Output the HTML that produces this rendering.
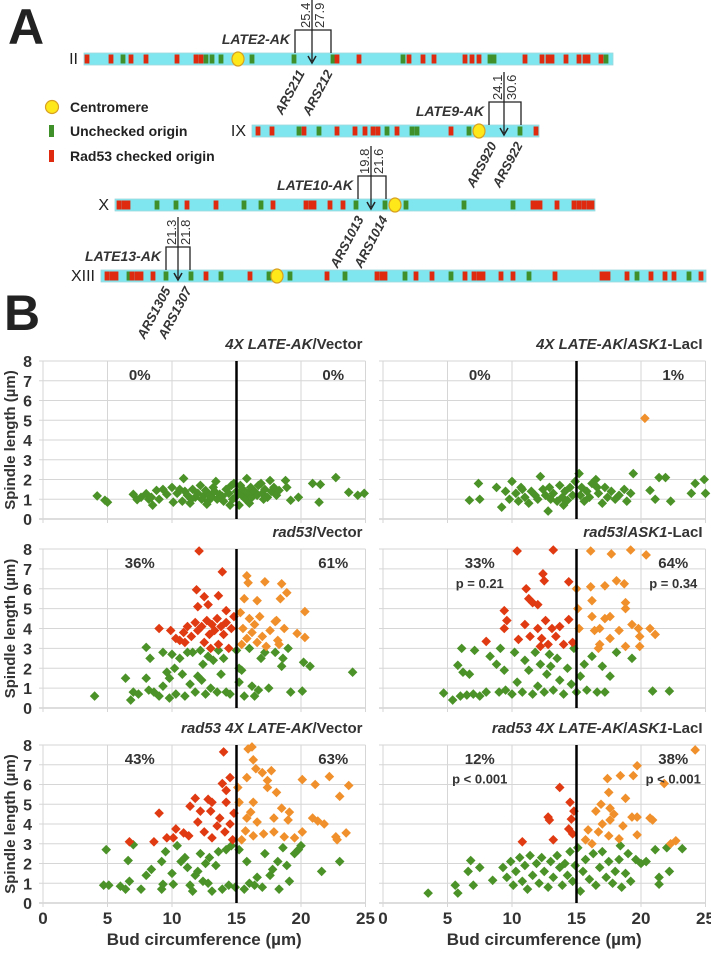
<!DOCTYPE html>
<html><head><meta charset="utf-8">
<style>
html,body{margin:0;padding:0;background:#fff;}
svg{display:block;font-family:"Liberation Sans",sans-serif;}
.n{font-family:"Liberation Sans Narrow","Liberation Sans",sans-serif;}
</style></head>
<body>
<svg id="fig" width="711" height="955" viewBox="0 0 711 955" xmlns="http://www.w3.org/2000/svg">
<text x="8" y="44" font-size="50" font-weight="bold" fill="#222">A</text>
<text x="4" y="330" font-size="50" font-weight="bold" fill="#222">B</text>
<g id="chromA"></g>
<g id="legendA">
 <circle cx="52" cy="107" r="6.5" fill="#ffe81a" stroke="#d8a020" stroke-width="1.2"/>
 <text class="n" x="70" y="112" font-size="14" font-weight="bold" fill="#222">Centromere</text>
 <rect x="49" y="125" width="5" height="12" fill="#3f8f2a"/>
 <text class="n" x="70" y="136" font-size="14" font-weight="bold" fill="#222">Unchecked origin</text>
 <rect x="49" y="150" width="5" height="12" fill="#e02a10"/>
 <text class="n" x="70" y="161" font-size="14" font-weight="bold" fill="#222">Rad53 checked origin</text>
</g>
<g id="plots"></g>
</svg>
<script>
// ---------- Panel A data ----------
const chrNames = ["II","IX","X","XIII"];
const chrStart = [84,252,115,101];
const chrEnd = [613,539,595,706];
const chrTop = [53,125,199,270];
const chrCen = [238,479,395,277];
const chrGreen = [
 [123,206,212,221,252,294,333,403,490,494,606],
 [299,319,387,412,417,469,520],
 [157,176,244,261,356,385,406,464,513],
 [129,166,191,221,269,290,345,405,451,529,637,689]
];
const chrRed = [
 [87,111,131,146,177,196,201,337,359,409,423,434,465,472,479,525,542,548,552,566,579,585,588,601],
 [258,272,304,337,355,365,373,378,397,451,536],
 [119,124,128,187,216,273,306,311,314,330,343,533,537,540,557,574,579,584,589,592],
 [107,112,116,132,137,141,153,206,250,327,377,382,385,416,432,465,474,479,483,501,513,555,602,606,608,627,651,665,674,701]
];
const lateLabels = ["LATE2-AK","LATE9-AK","LATE10-AK","LATE13-AK"];
const lateNum1 = ["25.4","24.1","19.8","21.3"];
const lateNum2 = ["27.9","30.6","21.6","21.8"];
const ars1 = ["ARS211","ARS920","ARS1013","ARS1305"];
const ars2 = ["ARS212","ARS922","ARS1014","ARS1307"];
const brL = [295,489,358,166], brR=[331,521,386,190], arX=[312,504,371,178], brTop=[30,102,176,247];
const chrIdx = [0,1,2,3];

const NS="http://www.w3.org/2000/svg";
function mk(tag,attrs,parent){const e=document.createElementNS(NS,tag);for(const k in attrs)e.setAttribute(k,attrs[k]);parent.appendChild(e);return e;}

const A=document.getElementById('chromA');
chrNames.forEach((nm,i)=>{
 const h=12,y=chrTop[i];
 const bar=mk('rect',{x:chrStart[i],y:y,width:chrEnd[i]-chrStart[i],height:h,fill:'#7fe6ef',stroke:'#9fd8dc','stroke-width':0.8},A);
 
 
 const t=mk('text',{x:chrStart[i]-6,y:y+11,'font-size':16,'text-anchor':'end',fill:'#222',class:'n'},A);t.textContent=nm;
 
 
 chrGreen[i].forEach(x=>{const r=mk('rect',{x:x-2.4,y:y+1.5,width:4.8,height:h-3,fill:'#3f8f2a'},A);
  
  });
 chrRed[i].forEach(x=>{const r=mk('rect',{x:x-2.4,y:y+1.5,width:4.8,height:h-3,fill:'#e02a10'},A);
  
  });
 const c=mk('ellipse',{cx:chrCen[i],cy:y+6,rx:6,ry:7,fill:'#ffe81a',stroke:'#d8a020','stroke-width':1.2},A);
 
 
});
chrIdx.forEach(i=>{
 const y=chrTop[i], top=brTop[i];
 const g=mk('g',{},A);
 
 
 mk('path',{d:`M${brL[i]} ${y} V${top} H${brR[i]} V${y}`,fill:'none',stroke:'#222','stroke-width':1.3},g);
 mk('line',{x1:arX[i],y1:top-30,x2:arX[i],y2:y+8,stroke:'#222','stroke-width':1.3},g);
 mk('path',{d:`M${arX[i]-4} ${y+3} L${arX[i]} ${y+10} L${arX[i]+4} ${y+3}`,fill:'none',stroke:'#222','stroke-width':1.5},g);
 let t=mk('text',{transform:`translate(${arX[i]-2},${top-2}) rotate(-90)`,'font-size':13,fill:'#333'},g);t.textContent=lateNum1[i];
 t=mk('text',{transform:`translate(${arX[i]+12},${top-2}) rotate(-90)`,'font-size':13,fill:'#333'},g);t.textContent=lateNum2[i];
 t=mk('text',{x:brL[i]-5,y:top+14,'font-size':14,'font-weight':'bold','font-style':'italic','text-anchor':'end',fill:'#333'},g);t.textContent=lateLabels[i];
 t=mk('text',{transform:`translate(${arX[i]-7},${y+20}) rotate(-62)`,'font-size':13,'font-weight':'bold','font-style':'italic','text-anchor':'end',fill:'#333'},g);t.textContent=ars1[i];
 t=mk('text',{transform:`translate(${brR[i]+2},${y+20}) rotate(-62)`,'font-size':13,'font-weight':'bold','font-style':'italic','text-anchor':'end',fill:'#333'},g);t.textContent=ars2[i];
});

// ---------- Panel B data ----------
const p1Green=[[4.2,1.17],[5.0,0.85],[4.8,0.95],[7.0,1.25],[7.3,0.98],[7.6,1.1],[8.0,1.28],[8.2,1.0],[8.5,0.7],[8.4,1.1],[8.8,1.45],[9.3,1.5],[10.0,1.6],[10.1,0.85],[10.4,1.3],[10.6,1.5],[10.8,0.9],[10.9,2.05],[11.0,1.4],[11.2,1.2],[11.4,0.8],[11.6,1.5],[11.8,1.1],[12.0,1.3],[12.2,1.7],[12.3,1.0],[12.5,1.2],[12.6,1.45],[12.8,0.9],[12.9,1.2],[13.1,1.1],[13.3,1.4],[13.4,1.9],[13.5,1.0],[13.7,1.25],[13.9,1.15],[14.0,0.9],[14.2,1.5],[14.4,1.3],[14.5,0.7],[14.6,1.7],[14.8,1.8],[14.9,1.1],[15.0,1.4],[15.2,0.7],[15.3,1.7],[15.4,1.2],[15.5,1.5],[15.7,1.0],[15.8,2.05],[15.9,1.3],[16.1,1.6],[16.2,1.1],[16.4,1.4],[16.6,1.2],[16.7,1.7],[16.9,1.8],[17.0,1.3],[17.2,1.5],[17.4,1.1],[17.6,1.95],[17.7,1.4],[17.9,1.6],[18.1,1.2],[18.3,1.45],[18.8,1.95],[18.9,1.6],[19.2,0.95],[19.8,1.1],[20.9,1.8],[21.4,0.85],[21.5,1.75],[22.7,2.1],[23.7,1.35],[24.4,1.2],[24.9,1.3],[11.5,1.0],[12.7,0.75],[13.2,1.6],[14.7,1.0],[16.0,0.8],[17.1,1.0],[9.6,1.25],[9.0,1.0]];
const p1Red=[];
const p1Orange=[];
const p2Green=[[6.7,0.95],[7.4,1.8],[7.5,1.0],[8.8,1.6],[9.2,0.6],[9.5,1.4],[9.8,1.0],[10.0,1.9],[10.3,1.3],[10.5,0.9],[10.7,1.6],[11.0,1.1],[11.3,0.8],[11.5,1.4],[11.8,1.2],[12.0,1.0],[12.2,2.15],[12.4,1.5],[12.6,1.2],[12.8,0.4],[13.0,1.0],[13.2,1.3],[13.5,0.9],[13.7,1.7],[13.9,1.1],[14.1,1.4],[14.3,0.95],[14.5,1.6],[14.7,1.2],[14.9,1.9],[15.2,2.3],[15.3,1.2],[15.4,1.6],[15.6,0.9],[15.8,1.4],[16.0,1.1],[16.2,1.8],[16.5,2.0],[16.7,1.3],[17.0,0.8],[17.2,1.6],[17.4,1.1],[17.7,1.4],[18.0,1.0],[18.3,1.2],[18.7,1.5],[18.9,0.9],[19.4,2.3],[19.2,1.3],[20.7,1.45],[21.1,1.0],[21.4,2.1],[21.9,2.1],[22.3,0.9],[23.9,1.3],[24.2,1.8],[24.9,2.0],[25.0,1.3],[10.8,1.5],[12.9,1.6],[16.6,1.6],[14.0,0.7]];
const p2Red=[];
const p2Orange=[[20.3,5.1]];
const p3Green=[[4.0,0.6],[6.4,1.5],[6.8,0.4],[7.0,0.8],[7.4,0.7],[8.0,3.05],[8.3,2.5],[8.0,1.5],[8.2,0.9],[8.6,0.8],[9.0,0.6],[9.3,2.8],[9.3,1.1],[9.6,1.8],[9.8,0.5],[9.8,1.5],[10.0,2.7],[10.2,2.0],[10.3,0.7],[10.6,2.5],[10.8,1.7],[11.0,0.6],[11.2,2.8],[11.4,1.2],[11.6,2.8],[11.8,0.8],[12.0,1.6],[12.2,2.9],[12.3,1.4],[12.6,0.7],[12.8,2.6],[13.0,1.0],[13.2,2.4],[13.5,0.8],[13.8,1.7],[14.0,2.5],[14.2,0.8],[14.5,0.7],[15.2,2.0],[15.4,1.9],[15.2,1.3],[15.6,0.6],[16.0,3.0],[16.2,1.1],[16.4,0.6],[16.7,0.9],[16.9,2.5],[17.2,2.8],[17.5,1.0],[18.0,2.8],[18.5,2.1],[18.6,2.5],[19.0,3.0],[19.2,0.8],[20.2,2.3],[20.1,0.85],[20.7,2.1],[24.0,1.8],[15.0,2.9],[13.6,2.9],[12.4,2.2]];
const p3Red=[[12.1,7.9],[13.9,6.85],[11.9,5.95],[12.5,5.6],[13.6,5.65],[12.0,5.1],[12.8,5.2],[14.2,4.9],[9.0,4.0],[9.9,3.9],[10.6,3.4],[10.9,3.8],[11.2,4.1],[11.5,3.6],[11.8,4.3],[12.0,3.9],[12.3,4.1],[12.5,3.3],[12.7,4.4],[12.9,3.7],[13.1,4.2],[13.3,3.9],[13.5,4.5],[13.6,3.2],[13.8,4.1],[14.0,3.7],[14.2,4.3],[14.4,3.0],[14.6,4.0],[14.8,4.6],[11.0,3.3],[13.0,3.0],[10.3,3.5]];
const p3Orange=[[15.8,6.65],[15.9,6.3],[17.2,6.35],[18.5,6.25],[18.9,5.8],[18.4,5.5],[16.6,5.4],[15.6,5.5],[20.3,4.85],[19.7,3.75],[20.3,3.55],[18.0,4.35],[18.7,4.0],[18.2,3.4],[15.3,4.8],[15.5,4.0],[15.8,3.5],[16.0,4.5],[16.2,3.8],[16.4,4.2],[16.6,3.3],[16.8,4.6],[17.0,3.6],[17.3,3.1],[17.6,3.9],[18.1,4.4],[18.3,3.2],[15.4,3.2]];
const p4Green=[[4.7,0.75],[5.4,0.4],[6.1,3.0],[7.1,2.9],[5.8,2.15],[6.2,1.8],[6.7,1.7],[8.3,2.6],[9.1,3.0],[8.8,2.2],[9.4,1.9],[6.0,0.6],[6.5,0.65],[7.0,0.7],[7.5,0.6],[8.0,0.8],[9.0,0.8],[9.5,0.9],[10.0,0.7],[10.4,1.3],[10.8,0.8],[11.0,2.4],[11.3,1.9],[11.6,0.7],[11.8,2.8],[12.0,1.1],[12.2,2.2],[12.5,0.8],[12.7,1.7],[13.0,2.1],[13.2,0.9],[13.5,2.5],[13.7,1.4],[14.0,0.7],[14.3,2.0],[14.6,1.2],[14.8,3.0],[15.0,0.8],[15.3,1.6],[15.6,2.2],[15.8,0.9],[16.2,2.6],[16.6,0.8],[17.0,2.1],[17.2,0.8],[17.6,1.6],[18.1,2.8],[19.3,2.5],[20.9,0.85],[22.2,0.85],[10.2,2.8],[12.9,2.7]];
const p4Red=[[10.4,7.9],[13.2,7.95],[12.4,6.75],[12.5,6.4],[14.4,6.35],[11.1,6.0],[11.3,5.5],[11.6,5.3],[12.0,5.2],[9.4,4.9],[9.6,4.4],[9.4,4.0],[8.0,3.35],[10.5,3.45],[11.4,3.6],[12.0,4.0],[12.3,3.5],[12.6,4.4],[12.8,3.2],[13.1,4.0],[13.4,3.6],[13.7,4.1],[14.4,4.45],[14.0,3.2],[14.7,3.3],[11.0,4.2],[12.2,3.1]];
const p4Orange=[[16.1,7.9],[17.7,7.75],[19.2,7.95],[20.4,7.7],[15.0,6.0],[16.1,6.1],[17.2,6.15],[18.1,6.4],[18.7,6.25],[16.2,5.4],[18.8,5.3],[18.8,5.0],[15.1,5.0],[16.2,4.6],[17.2,4.5],[17.6,4.6],[15.2,4.0],[16.4,3.9],[16.8,4.0],[18.3,3.9],[19.3,4.2],[19.8,4.0],[20.7,4.0],[21.1,3.7],[19.9,3.6],[19.9,3.1],[18.8,3.1],[17.6,3.5],[16.8,3.2],[16.7,3.0]];
const p5Green=[[4.9,2.7],[4.7,0.9],[5.1,0.9],[6.0,0.85],[6.4,0.7],[6.6,2.15],[7.0,2.95],[6.7,1.1],[7.6,0.7],[8.0,1.4],[8.4,1.7],[9.2,2.1],[9.3,0.95],[9.5,2.6],[9.2,0.7],[10.1,0.95],[10.0,1.5],[10.4,2.9],[10.7,2.1],[11.0,2.3],[11.2,1.8],[11.4,0.9],[11.6,0.6],[11.8,1.4],[12.0,1.6],[12.2,2.5],[12.4,1.1],[12.6,2.0],[12.9,2.3],[13.1,0.6],[13.4,1.9],[13.6,2.6],[13.9,0.7],[14.2,2.7],[14.4,0.9],[14.6,2.9],[14.9,0.8],[15.2,2.7],[15.6,0.7],[15.8,2.1],[16.0,1.0],[16.4,0.9],[17.0,0.8],[17.2,2.5],[17.6,1.4],[17.8,1.7],[18.2,2.1],[18.3,0.7],[18.6,2.8],[18.9,1.9],[19.1,1.1],[19.5,2.5],[19.8,2.7],[20.0,2.9],[21.6,1.6],[23.0,2.1],[16.6,1.3],[12.8,1.0]];
const p5Red=[[14.0,7.65],[14.5,6.35],[13.9,6.05],[14.2,5.7],[11.8,5.3],[11.4,4.9],[12.8,5.25],[13.1,5.1],[9.0,4.55],[12.2,4.65],[13.0,4.65],[14.2,5.1],[14.8,4.55],[14.5,4.0],[13.7,4.3],[10.3,3.75],[10.9,3.55],[11.3,3.4],[10.1,3.3],[9.6,3.3],[8.6,3.1],[6.7,3.1],[12.5,3.6],[13.1,3.3],[13.5,3.9],[14.1,3.6],[12.0,4.1],[14.7,3.2]];
const p5Orange=[[15.9,7.8],[16.2,7.9],[16.3,7.25],[16.5,6.8],[17.0,6.6],[17.7,6.7],[15.8,6.35],[17.4,6.2],[17.4,5.85],[18.1,5.6],[15.1,5.85],[20.1,6.25],[21.1,6.0],[22.2,6.4],[23.7,5.95],[23.0,5.4],[15.2,5.1],[16.3,5.1],[16.1,4.6],[15.8,4.3],[16.6,4.1],[17.9,4.3],[18.5,4.8],[19.1,4.6],[19.0,4.2],[20.9,4.3],[21.3,4.15],[21.8,4.0],[20.1,3.6],[18.7,3.35],[19.5,3.3],[23.5,3.55],[22.7,3.35],[22.8,3.2],[15.7,3.65],[16.3,3.4],[17.1,3.5],[17.9,3.6],[15.4,3.2]];
const p6Green=[[3.5,0.5],[6.8,2.15],[6.6,1.6],[5.6,0.9],[5.8,0.5],[7.0,0.9],[8.5,1.15],[7.5,1.8],[9.3,1.8],[9.6,1.3],[9.9,2.1],[10.1,0.9],[10.3,1.6],[10.6,2.3],[10.8,1.1],[11.0,1.9],[11.2,0.7],[11.4,2.4],[11.6,1.4],[11.9,2.0],[12.1,1.0],[12.3,2.3],[12.5,1.6],[12.8,0.8],[13.0,2.1],[13.2,1.3],[13.5,2.4],[13.7,1.8],[13.9,0.9],[14.1,2.0],[14.3,1.4],[14.5,2.6],[14.7,1.1],[14.9,1.9],[15.1,2.8],[15.3,0.6],[15.5,1.6],[15.7,2.2],[16.0,1.2],[16.3,2.5],[16.5,0.9],[16.8,1.8],[17.0,2.6],[17.3,1.3],[17.5,2.1],[17.8,1.0],[18.0,1.6],[18.3,2.2],[18.5,0.8],[18.8,1.5],[19.0,2.5],[19.2,1.1],[19.6,2.2],[20.0,2.0],[20.4,2.1],[21.1,2.7],[21.4,1.3],[21.4,0.95],[22.2,1.6],[22.0,2.8],[23.2,2.75],[18.4,2.9]];
const p6Red=[[13.7,5.85],[14.5,5.1],[14.8,4.65],[14.6,4.25],[12.8,4.35],[12.9,4.2],[14.4,3.75],[14.7,3.5],[13.2,3.2],[10.8,3.1]];
const p6Orange=[[24.2,7.75],[19.7,6.95],[19.4,6.45],[18.4,6.45],[17.4,6.3],[21.8,6.05],[17.5,5.6],[18.8,5.3],[16.9,5.0],[17.6,4.8],[17.9,4.5],[17.6,4.2],[17.0,4.0],[19.3,4.35],[19.7,4.35],[20.7,4.3],[20.9,4.2],[16.5,4.65],[15.9,3.7],[15.7,3.2],[16.7,3.6],[18.6,3.9],[19.7,3.45],[18.3,3.25],[22.7,3.15],[22.3,3.0],[16.2,3.0],[17.5,3.4]];

const panelTitlesPlain=[["4X ","LATE-AK","/Vector"],["4X ","LATE-AK","/","ASK1","-LacI"],["rad53","/Vector"],["rad53","/","ASK1","-LacI"],["rad53 4X ","LATE-AK","/Vector"],["rad53 4X ","LATE-AK","/","ASK1","-LacI"]];
const panelTitleItalic=[[1,1,0],[1,1,0,1,0],[1,0],[1,0,1,0],[1,1,0],[1,1,0,1,0]];
const pctLeft=["0%","0%","36%","33%","43%","12%"];
const pctRight=["0%","1%","61%","64%","63%","38%"];
const pLeft=["","","","p = 0.21","","p < 0.001"];
const pRight=["","","","p = 0.34","","p < 0.001"];
const xTicks=[0,5,10,15,20,25];
const yTicks=[0,1,2,3,4,5,6,7,8];
const panelData=[[p1Green,p1Red,p1Orange],[p2Green,p2Red,p2Orange],[p3Green,p3Red,p3Orange],[p4Green,p4Red,p4Orange],[p5Green,p5Red,p5Orange],[p6Green,p6Red,p6Orange]];
const seriesColors=['#4b9228','#e03a12','#f0902c'];
const seriesNames=['green','red','orange'];

const P=document.getElementById('plots');
const colX0=[43,383], rowY8=[361,549,745], rowY0=[519,708,903];
const pxPerX=12.9;
for(let k=0;k<6;k++){
 const col=k%2,row=Math.floor(k/2);
 const x0=colX0[col], yT=rowY8[row], yB=rowY0[row];
 const sx=v=>x0+v*pxPerX, sy=v=>yB-v*(yB-yT)/8;
 const g=mk('g',{},P);
 
 
 yTicks.forEach(v=>{
  mk('line',{x1:sx(0)-4,x2:sx(25),y1:sy(v),y2:sy(v),stroke:v===0?'#bbb':'#d6d6d6','stroke-width':1},g);
  if(col===0){const t=mk('text',{x:32,y:sy(v)+6,'font-size':16,'font-weight':'bold','text-anchor':'end',fill:'#333'},g);t.textContent=v;
   
   }
 });
 xTicks.forEach(v=>{
  if(v!==15) mk('line',{x1:sx(v),x2:sx(v),y1:yT,y2:yB+4,stroke:'#d6d6d6','stroke-width':1},g);
  if(row===2){const t=mk('text',{x:sx(v),y:yB+21,'font-size':17,'font-weight':'bold','text-anchor':'middle',fill:'#333'},g);t.textContent=v;
   
   }
 });
 panelData[k].forEach((ser,si)=>{
  ser.forEach(p=>{
   const cx=sx(p[0]),cy=sy(p[1]);
   const d=mk('path',{d:`M${cx} ${cy-4.8} L${cx+4.8} ${cy} L${cx} ${cy+4.8} L${cx-4.8} ${cy} Z`,fill:seriesColors[si]},g);
   
   
  });
 });
 const bl=mk('line',{x1:sx(15),x2:sx(15),y1:yT,y2:yB,stroke:'#000','stroke-width':2.5},g);
 
 
 const tt=mk('text',{x:sx(25)-3,y:yT-12,'font-size':15,'font-weight':'bold','text-anchor':'end',fill:'#333'},g);
 
 
 panelTitlesPlain[k].forEach((s,j)=>{const ts=mk('tspan',{'font-style':panelTitleItalic[k][j]?'italic':'normal'},tt);ts.textContent=s;});
 let t=mk('text',{x:sx(7.5),y:sy(7.3)+5,'font-size':15,'font-weight':'bold','text-anchor':'middle',fill:'#333'},g);t.textContent=pctLeft[k];
 
 
 t=mk('text',{x:sx(22.5),y:sy(7.3)+5,'font-size':15,'font-weight':'bold','text-anchor':'middle',fill:'#333'},g);t.textContent=pctRight[k];
 
 
 if(pLeft[k]){
  t=mk('text',{x:sx(7.5),y:sy(6.3)+5,'font-size':13,'font-weight':'bold','text-anchor':'middle',fill:'#333'},g);t.textContent=pLeft[k];
  
  
  t=mk('text',{x:sx(22.5),y:sy(6.3)+5,'font-size':13,'font-weight':'bold','text-anchor':'middle',fill:'#333'},g);t.textContent=pRight[k];
  
  
 }
 if(col===0){
  t=mk('text',{transform:`translate(15,${(yT+yB)/2}) rotate(-90)`,'font-size':15,'font-weight':'bold','text-anchor':'middle',fill:'#333'},g);t.textContent='Spindle length (\u00b5m)';
  
  
 }
 if(row===2){
  t=mk('text',{x:sx(12.5),y:945,'font-size':17,'font-weight':'bold','text-anchor':'middle',fill:'#333'},g);t.textContent='Bud circumference (\u00b5m)';
  
  
 }
}
</script>
</body></html>
